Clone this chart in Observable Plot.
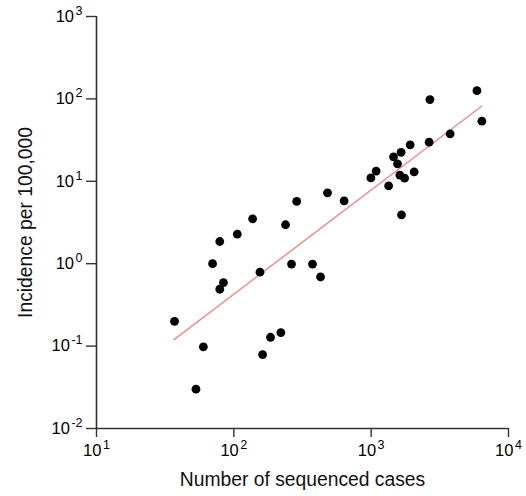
<!DOCTYPE html>
<html>
<head>
<meta charset="utf-8">
<script src="https://cdn.jsdelivr.net/npm/d3@7"></script>
<script src="https://cdn.jsdelivr.net/npm/@observablehq/plot@0.6"></script>
<style>
  html, body { margin: 0; padding: 0; background: #fff; }
</style>
</head>
<body>
<div id="chart"></div>
<script>
// Number of sequenced cases (x) and incidence per 100,000 (y)
const cases = [37, 53, 60, 70, 79, 84, 79, 106, 137, 155, 162, 185, 220, 238, 263, 287, 374, 428, 481, 635,
  995, 1087, 1340, 1455, 1556, 1652, 1617, 1750, 1663, 1923, 2056, 2642, 2678, 3758, 5890, 6398];
const incidence = [0.2, 0.03, 0.098, 1.0, 1.86, 0.59, 0.49, 2.28, 3.5, 0.79, 0.079, 0.128, 0.146, 2.97, 0.99, 5.7, 0.99, 0.69, 7.25, 5.8,
  11.0, 13.3, 8.8, 19.8, 16.3, 22.5, 11.9, 10.9, 3.92, 27.7, 13.0, 29.8, 98, 37.7, 126, 53.6];

// Fitted line end points
const fitX = [36.7, 6400];
const fitY = [0.12, 82];

// Axis ticks
const xTicks = [10, 100, 1000, 10000];
const yTicks = [0.01, 0.1, 1, 10, 100, 1000];

const points = cases.map((c, i) => ({cases: c, incidence: incidence[i]}));
const fit = fitX.map((x, i) => ({x, y: fitY[i]}));

const expFormat = d => `10^${Math.round(Math.log10(d))}`;
const FONT = "'Liberation Sans', Arial, Helvetica, sans-serif";

const svg = Plot.plot({
  width: 526,
  height: 496,
  marginLeft: 96,
  marginRight: 18,
  marginTop: 16,
  marginBottom: 68,
  style: {fontFamily: FONT, fontSize: "16px", color: "#000", background: "#fff"},
  x: {type: "log", domain: [10, 10000]},
  y: {type: "log", domain: [0.01, 1000]},
  marks: [
    Plot.axisX({ticks: xTicks, tickFormat: expFormat, tickSize: 9, tickPadding: 7, fontSize: 16.5, label: null, stroke: "#333", strokeWidth: 1.4}),
    Plot.axisY({ticks: yTicks, tickFormat: expFormat, tickSize: 10, tickPadding: 4, fontSize: 16.5, label: null, stroke: "#333", strokeWidth: 1.4}),
    Plot.ruleX([10], {y1: 0.01, y2: 1000, stroke: "#333", strokeWidth: 1.6}),
    Plot.ruleY([0.01], {x1: 10, x2: 10000, stroke: "#333", strokeWidth: 1.6}),
    Plot.line(fit, {x: "x", y: "y", stroke: "#f28b8b", strokeWidth: 1.5}),
    Plot.dot(points, {x: "cases", y: "incidence", r: 4.4, fill: "#000", stroke: "none"}),
    Plot.text(["Number of sequenced cases"], {frameAnchor: "bottom", textAnchor: "middle", dy: 57, fontSize: 19.3, fill: "#111"}),
    Plot.text(["Incidence per 100,000"], {frameAnchor: "left", textAnchor: "middle", rotate: -90, dx: -71, fontSize: 19.3, fill: "#111"})
  ]
});

// Render exponents as superscripts
svg.querySelectorAll('g[aria-label$="tick label"] text').forEach(t => {
  const s = t.textContent;
  if (!s.includes("^")) return;
  const [base, exp] = s.split("^");
  t.textContent = base;
  const ts = document.createElementNS("http://www.w3.org/2000/svg", "tspan");
  ts.setAttribute("font-size", "12.5");
  ts.setAttribute("dy", "-7");
  ts.setAttribute("dx", "1.5");
  ts.textContent = exp;
  t.appendChild(ts);
});

document.getElementById("chart").appendChild(svg);
</script>
</body>
</html>
